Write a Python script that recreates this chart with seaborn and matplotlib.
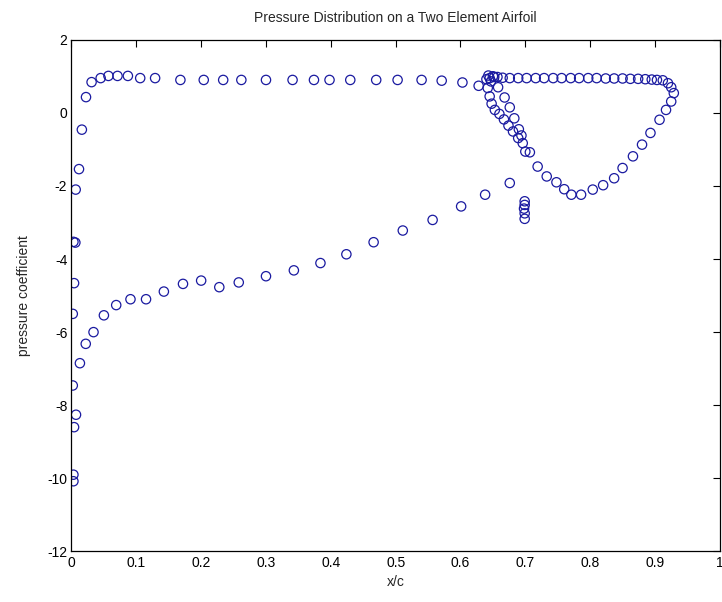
import numpy as np
import pandas as pd
import seaborn as sns
import matplotlib.pyplot as plt

# main element, suction side (leading edge peak -> trailing edge)
main_upper_x = [0.003, 0.003, 0.007, 0.004, 0.002, 0.002, 0.004, 0.006, 0.003,
                0.013, 0.022, 0.034, 0.050, 0.069, 0.091, 0.115, 0.1425, 0.172,
                0.200, 0.228, 0.258, 0.300, 0.343, 0.384, 0.424, 0.466, 0.511,
                0.557, 0.601, 0.638, 0.676, 0.699, 0.699, 0.698, 0.699, 0.699]
main_upper_cp = [-10.08, -9.9, -8.26, -8.6, -7.46, -5.5, -4.66, -3.55, -3.53,
                 -6.85, -6.32, -6.0, -5.54, -5.26, -5.1, -5.1, -4.89, -4.68,
                 -4.59, -4.77, -4.64, -4.47, -4.31, -4.11, -3.87, -3.54, -3.22,
                 -2.93, -2.56, -2.24, -1.92, -2.42, -2.52, -2.62, -2.75, -2.9]

# main element, pressure side and cove
main_lower_x = [0.0065, 0.0116, 0.016, 0.0224, 0.031, 0.045, 0.057, 0.071, 0.087,
                0.106, 0.129, 0.168, 0.204, 0.234, 0.262, 0.300, 0.341, 0.374,
                0.398, 0.430, 0.470, 0.503, 0.540, 0.571, 0.603, 0.628,
                0.640, 0.642, 0.645, 0.648, 0.653, 0.660, 0.667, 0.674, 0.681, 0.689]
main_lower_cp = [-2.1, -1.54, -0.46, 0.43, 0.84, 0.95, 1.01, 1.01, 1.01,
                 0.95, 0.95, 0.9, 0.9, 0.9, 0.9, 0.9, 0.9, 0.9,
                 0.9, 0.9, 0.9, 0.9, 0.9, 0.88, 0.83, 0.74,
                 0.92, 0.68, 0.45, 0.25, 0.08, -0.03, -0.18, -0.35, -0.51, -0.69]

# flap, suction side
flap_upper_x = [0.643, 0.645, 0.647, 0.652, 0.658, 0.668, 0.676, 0.683, 0.690,
                0.694, 0.696, 0.700, 0.707, 0.719, 0.733, 0.748, 0.760, 0.771,
                0.786, 0.804, 0.820, 0.837, 0.850, 0.866, 0.880, 0.893, 0.907,
                0.917, 0.925, 0.929, 0.925, 0.920, 0.912]
flap_upper_cp = [1.02, 0.95, 0.86, 0.98, 0.7, 0.42, 0.15, -0.15, -0.45,
                 -0.62, -0.83, -1.06, -1.08, -1.47, -1.74, -1.9, -2.09, -2.24,
                 -2.24, -2.1, -1.98, -1.79, -1.51, -1.19, -0.87, -0.55, -0.19,
                 0.08, 0.31, 0.54, 0.7, 0.81, 0.89]

# flap, pressure side
flap_lower_x = [0.650, 0.657, 0.665, 0.676, 0.689, 0.702, 0.716, 0.729, 0.743,
                0.756, 0.770, 0.783, 0.797, 0.810, 0.824, 0.837, 0.850, 0.862,
                0.874, 0.885, 0.895, 0.903]
flap_lower_cp = [1.0, 0.98, 0.96, 0.95, 0.95, 0.95, 0.95, 0.95, 0.95,
                 0.95, 0.95, 0.95, 0.95, 0.95, 0.94, 0.94, 0.94, 0.93,
                 0.93, 0.92, 0.91, 0.9]

df = pd.DataFrame({
    'x': main_upper_x + main_lower_x + flap_upper_x + flap_lower_x,
    'cp': main_upper_cp + main_lower_cp + flap_upper_cp + flap_lower_cp,
})

sns.set_style('white')
plt.rcParams['font.family'] = ['Liberation Sans', 'DejaVu Sans']
plt.rcParams['axes.unicode_minus'] = False

fig = plt.figure(figsize=(7.22, 6.02), dpi=100)
ax = fig.add_axes([0.099, 0.084, 0.898, 0.850])
sns.scatterplot(data=df, x='x', y='cp', ax=ax, marker='o', s=45,
                facecolor='none', edgecolor='#1a1aa0', linewidth=0.9)

ax.set_xlim(0, 1)
ax.set_ylim(-12, 2)
ax.set_xticks(np.arange(0, 1.01, 0.1))
ax.set_xticklabels(['0', '0.1', '0.2', '0.3', '0.4', '0.5', '0.6', '0.7', '0.8', '0.9', '1'])
ax.set_yticks(np.arange(-12, 2.1, 2))
ax.tick_params(direction='in', length=5, width=0.8, top=True, right=True,
               labelsize=10, colors='black', pad=3)
for sp in ax.spines.values():
    sp.set_color('black')
    sp.set_linewidth(0.9)
    sp.set_visible(True)

ax.set_title('Pressure Distribution on a Two Element Airfoil', fontsize=10, pad=13)
ax.set_xlabel('x/c', fontsize=10, labelpad=4)
ax.set_ylabel('pressure coefficient', fontsize=10, labelpad=12)

fig.savefig('out.png', dpi=100, facecolor='white')
plt.close()
